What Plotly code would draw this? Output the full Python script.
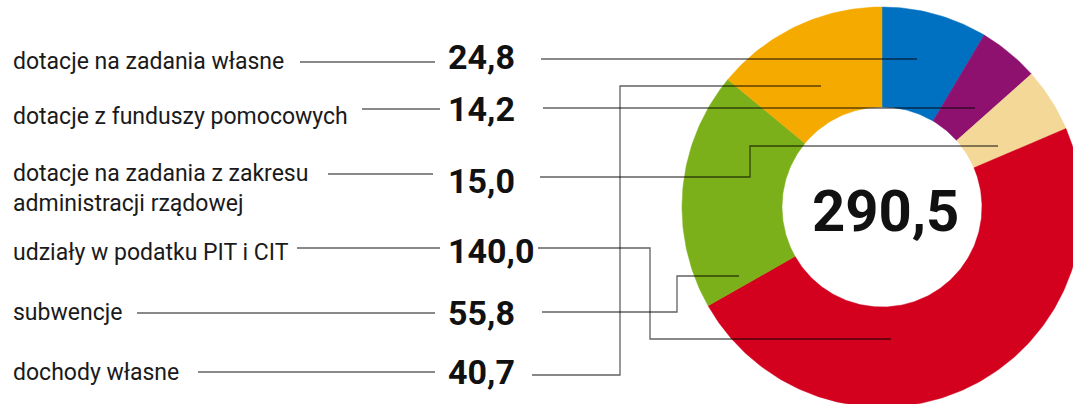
import math
import plotly.graph_objects as go

# ---- data ----
categories = [
    "dotacje na zadania własne",
    "dotacje z funduszy pomocowych",
    "dotacje na zadania z zakresu<br>administracji rządowej",
    "udziały w podatku PIT i CIT",
    "subwencje",
    "dochody własne",
]
values = [24.8, 14.2, 15.0, 140.0, 55.8, 40.7]
total_label = "290,5"
colors = ["#0070c0", "#8e1170", "#f3d898", "#d3001e", "#7cb01a", "#f5aa00"]

# ---- layout (pixel space) ----
W, H = 1073, 404
CX, CY, R_OUT, R_IN = 882, 207, 200, 100
label_y = [61, 116, 188, 252, 312, 372]
number_y = [57, 109, 181, 251, 313, 372]
left_segs = [(300, 435, 62), (362, 440, 109), (328, 433, 174),
             (297, 440, 248), (137, 435, 313), (198, 435, 372)]
right_paths = [
    [(541, 59), (917, 59)],
    [(543, 108), (975, 108)],
    [(540, 177), (750, 177), (750, 146), (998, 146)],
    [(538, 248), (650, 248), (650, 339), (891, 339)],
    [(542, 312), (677, 312), (677, 276), (739, 276)],
    [(532, 375), (620, 375), (620, 86), (821, 86)],
]


def fmt(v):
    return f"{v:.1f}".replace(".", ",")


fig = go.Figure()
total = sum(values)
start = 0.0
for v, c, name in zip(values, colors, categories):
    a0 = start / total * 2 * math.pi
    a1 = (start + v) / total * 2 * math.pi
    n = max(8, int(v / total * 360))
    angs = [a0 + (a1 - a0) * i / n for i in range(n + 1)]
    xs = [CX + R_OUT * math.sin(a) for a in angs] + [CX + R_IN * math.sin(a) for a in reversed(angs)]
    ys = [CY - R_OUT * math.cos(a) for a in angs] + [CY - R_IN * math.cos(a) for a in reversed(angs)]
    xs.append(xs[0]); ys.append(ys[0])
    fig.add_trace(go.Scatter(x=xs, y=ys, fill="toself", fillcolor=c, mode="lines",
                             line=dict(width=0.5, color=c), hoverinfo="text",
                             text=f"{name.replace('<br>', ' ')}: {fmt(v)}", showlegend=False))
    start += v

shapes = []
line_style = dict(color="rgba(0,0,0,0.62)", width=1.3)
for x0, x1, y in left_segs:
    shapes.append(dict(type="line", x0=x0, x1=x1, y0=y, y1=y, xref="x", yref="y", line=line_style))
for pts in right_paths:
    path = "M " + " L ".join(f"{x},{y}" for x, y in pts)
    shapes.append(dict(type="path", path=path, xref="x", yref="y", line=line_style))

annotations = []
for name, ly, v, ny in zip(categories, label_y, values, number_y):
    annotations.append(dict(x=11, y=ly, xref="x", yref="y", text=name, showarrow=False,
                            xanchor="left", yanchor="middle", align="left",
                            font=dict(family="Roboto", size=23, color="#1a1a1a")))
    annotations.append(dict(x=446, y=ny, xref="x", yref="y", text=f"<b>{fmt(v)}</b>", showarrow=False,
                            xanchor="left", yanchor="middle",
                            font=dict(family="Roboto", size=34, color="#111111")))
annotations.append(dict(x=885, y=211, xref="x", yref="y", text=f"<b>{total_label}</b>", showarrow=False,
                        xanchor="center", yanchor="middle",
                        font=dict(family="Roboto", size=58, color="#111111")))

fig.update_layout(
    width=W, height=H, autosize=False,
    margin=dict(l=0, r=0, t=0, b=0),
    paper_bgcolor="white", plot_bgcolor="white",
    xaxis=dict(range=[0, W], visible=False, fixedrange=True),
    yaxis=dict(range=[H, 0], visible=False, fixedrange=True),
    shapes=shapes, annotations=annotations,
    showlegend=False,
)
fig.write_html("out.html")
